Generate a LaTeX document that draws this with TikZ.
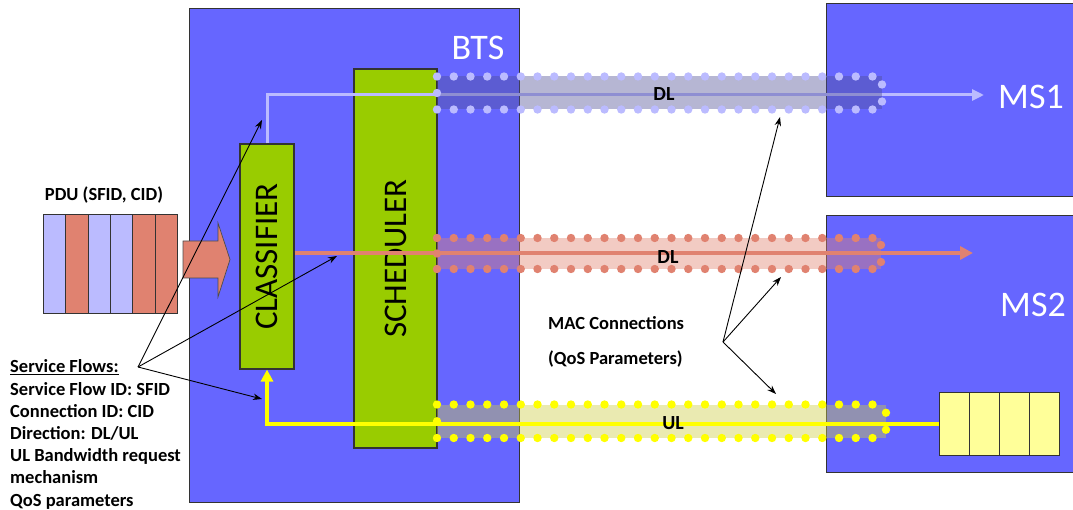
\documentclass[tikz,border=0pt]{standalone}
\usepackage{fontspec}
\setmainfont{Carlito}
\usetikzlibrary{arrows.meta}
\definecolor{btsblue}{RGB}{102,102,255}
\definecolor{grn}{RGB}{153,204,0}
\definecolor{lav}{RGB}{187,187,255}
\definecolor{salmon}{RGB}{224,130,112}
\definecolor{ylw}{RGB}{255,255,0}
\definecolor{qylw}{RGB}{255,255,153}
\definecolor{tubeblue}{RGB}{80,80,150}
\definecolor{tubeylw}{RGB}{205,205,70}
\newcommand\tubepipe[7]{%
  \fill[#7, fill opacity=0.42] (#1,#2) rectangle (#5,#3);
}
\newcommand\tubedots[6]{%
  \foreach \i in {0,...,#4} {
    \fill[#6] (#1+\i*16.75,#2) circle (4.2pt);
    \fill[#6] (#1+\i*16.75,#3) circle (4.2pt);
  }
  \fill[#6] (#1,{(#2+#3)/2}) circle (4.2pt);
  \fill[#6] (#5,{(#2+#3)/2-8.5}) circle (4.2pt);
  \fill[#6] (#5,{(#2+#3)/2+8.5}) circle (4.2pt);
}
\begin{document}
\begin{tikzpicture}[x=1pt,y=-1pt,
  box/.style={draw=black!80, line width=1.1pt, inner sep=0pt},
  unit/.style={box, fill=btsblue, anchor=north west},
  func/.style={box, fill=grn, anchor=center, rotate=90, font=\fontsize{33}{33}\selectfont},
  cell/.style={draw=black!80, line width=1pt, anchor=north west, inner sep=0pt},
  bignm/.style={text=white, font=\fontsize{36}{36}\selectfont, anchor=base, inner sep=0pt},
  lbl/.style={font=\bfseries\fontsize{18.5}{22.2}\selectfont, inner sep=0pt},
  pipelbl/.style={font=\bfseries\fontsize{20}{20}\selectfont, inner sep=0pt, anchor=base},
  thinarrow/.style={draw=black, line width=0.9pt, -{Stealth[length=9pt,width=6.5pt]}},
  bluelink/.style={draw=lav, line width=3pt, -{Triangle[length=12pt,width=11pt]}},
  redlink/.style={draw=salmon, line width=3.6pt, -{Triangle[length=13pt,width=13pt]}},
  ylwlink/.style={draw=ylw, line width=3.4pt, -{Triangle[length=12pt,width=12pt]}}
]
\useasboundingbox (0,0) rectangle (1073,510);

% main units
\node[unit, minimum width=330pt, minimum height=494pt] (bts) at (189,8) {};
\node[unit, minimum width=300pt, minimum height=193pt] (ms1) at (826,3) {};
\node[unit, minimum width=300pt, minimum height=257pt] (ms2) at (826,215) {};

% functional blocks
\node[func, minimum width=225pt, minimum height=54pt] (cls) at (267,256.5) {CLASSIFIER};
\node[func, minimum width=379pt, minimum height=83pt] (sch) at (395.5,258.5) {SCHEDULER};

% labels of units
\node[bignm] (btslbl) at (478,59.5) {BTS};
\node[bignm] (ms1lbl) at (1031,108.5) {MS1};
\node[bignm] (ms2lbl) at (1033,317) {MS2};

% end points of flows
\coordinate (dlend1) at (984,95);
\coordinate (dlend2) at (973,253);

% MS2 queue
\node[cell, fill=qylw, minimum width=30pt, minimum height=63pt] (q1) at (939,392) {};
\node[cell, fill=qylw, minimum width=30pt, minimum height=63pt] (q2) at (969,392) {};
\node[cell, fill=qylw, minimum width=30pt, minimum height=63pt] (q3) at (999,392) {};
\node[cell, fill=qylw, minimum width=30pt, minimum height=63pt] (q4) at (1029,392) {};

% DL flow to MS1 (under the pipe)
\draw[bluelink] (cls.east) |- (dlend1);

% pipes (fill)
\tubepipe{437}{76.5}{109.5}{26}{882}{lav}{tubeblue}
\tubepipe{437}{238}{269}{26}{881}{salmon}{salmon}
\tubepipe{437}{404.5}{438}{26}{886}{ylw}{tubeylw}

% DL flow to MS2 and UL flow from MS2
\draw[redlink] (cls.south |- dlend2) -- (dlend2);
\draw[ylwlink] (q1.west) -| (cls.west);

% pipe dots
\tubedots{437}{76.5}{109.5}{26}{882}{lav}
\tubedots{437}{238}{269}{26}{881}{salmon}
\tubedots{437}{404.5}{438}{26}{886}{ylw}

% pipe labels
\node[pipelbl] (dl1) at (664,101) {DL};
\node[pipelbl] (dl2) at (668,263.5) {DL};
\node[pipelbl] (ul) at (673,429.5) {UL};

% PDU
\node[lbl, anchor=base] (pdulbl) at (104,201) {PDU (SFID, CID)};
\node[cell, fill=lav, minimum width=22.33pt, minimum height=99pt] (p1) at (43,214) {};
\node[cell, fill=salmon, minimum width=22.33pt, minimum height=99pt] (p2) at (65.33,214) {};
\node[cell, fill=lav, minimum width=22.33pt, minimum height=99pt] (p3) at (87.67,214) {};
\node[cell, fill=lav, minimum width=22.33pt, minimum height=99pt] (p4) at (110,214) {};
\node[cell, fill=salmon, minimum width=22.33pt, minimum height=99pt] (p5) at (132.33,214) {};
\node[cell, fill=salmon, minimum width=22.33pt, minimum height=99pt] (p6) at (154.67,214) {};
\draw[fill=salmon, draw=black!70, line width=0.7pt]
  (183,241) -- (218,241) -- (218,223) -- (230,259.5) -- (218,297) -- (218,278) -- (183,278) -- cycle;

% service flows text
\node[lbl, anchor=base west, align=left] (sf) at (10,506)
  {\underline{Service Flows:}\\ Service Flow ID: SFID\\ Connection ID: CID\\ Direction: DL/UL\\
   UL Bandwidth request\\ mechanism\\ QoS parameters};
\node[lbl, anchor=base west, align=left, font=\bfseries\fontsize{18.5}{35}\selectfont] (mac) at (548,364)
  {MAC Connections\\ (QoS Parameters)};

% pointer arrows
\coordinate (sfhub) at (138,367);
\coordinate (sft1) at (262,120);
\coordinate (sft2) at (337,256);
\coordinate (sft3) at (262,399);
\coordinate (machub) at (723,342);
\coordinate (mact1) at (780,117);
\coordinate (mact2) at (781,277);
\coordinate (mact3) at (776,394);
\draw[thinarrow] (sfhub) -- (sft1);
\draw[thinarrow] (sfhub) -- (sft2);
\draw[thinarrow] (sfhub) -- (sft3);
\draw[thinarrow] (machub) -- (mact1);
\draw[thinarrow] (machub) -- (mact2);
\draw[thinarrow] (machub) -- (mact3);
\end{tikzpicture}
\end{document}
